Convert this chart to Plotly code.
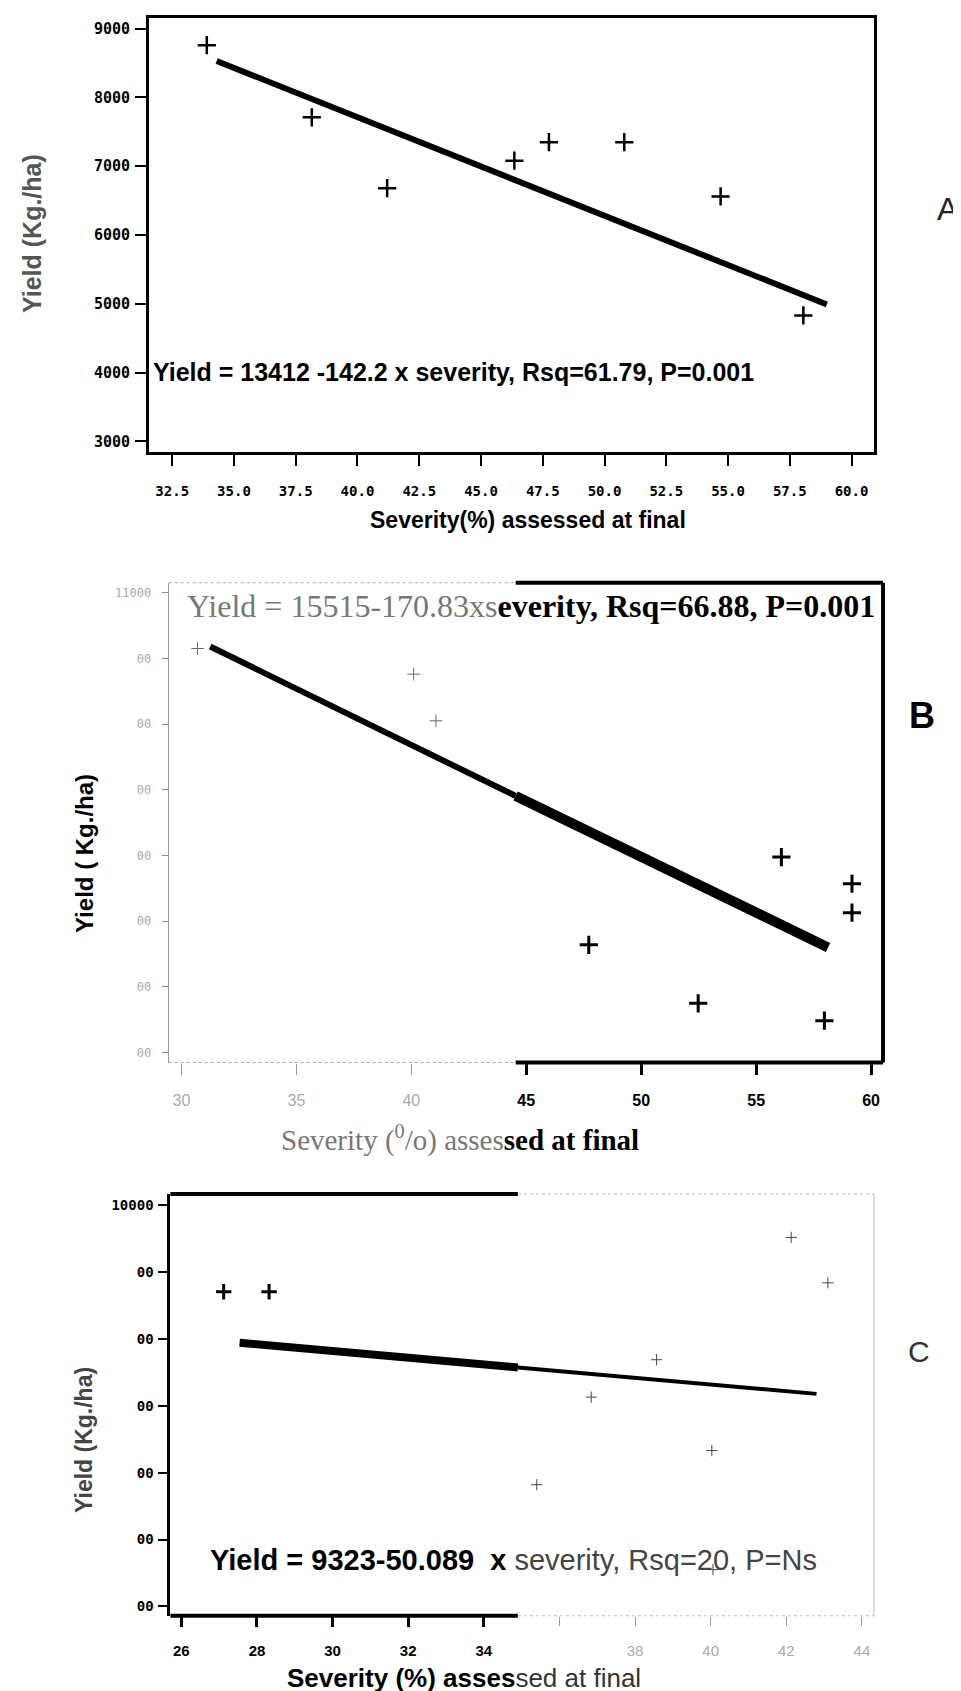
import plotly.graph_objects as go

W, H = 961, 1691

# ---------------- data ----------------
# Panel A
a_sev = [33.9, 38.15, 41.2, 46.35, 47.75, 50.8, 54.7, 58.05]
a_yld = [8760, 7710, 6680, 7080, 7350, 7350, 6560, 4830]
a_fit_x = [34.3, 59.0]
a_fit_y = [8530, 4990]
a_xticks = [32.5, 35.0, 37.5, 40.0, 42.5, 45.0, 47.5, 50.0, 52.5, 55.0, 57.5, 60.0]
a_xlabels = ["32.5", "35.0", "37.5", "40.0", "42.5", "45.0", "47.5", "50.0", "52.5", "55.0", "57.5", "60.0"]
a_yticks = [3000, 4000, 5000, 6000, 7000, 8000, 9000]
a_ylabels = ["3000", "4000", "5000", "6000", "7000", "8000", "9000"]

# Panel B
b_sev = [30.7, 40.1, 41.07, 47.72, 52.48, 56.1, 59.17, 59.17, 57.97]
b_yld = [10150, 9760, 9050, 5640, 4750, 6975, 6570, 6130, 4485]
b_fit_x = [31.25, 44.54, 58.13]
b_fit_y = [10180, 7906, 5600]
b_xticks = [30, 35, 40, 45, 50, 55, 60]
b_xlabels = ["30", "35", "40", "45", "50", "55", "60"]
b_yticks = [4000, 5000, 6000, 7000, 8000, 9000, 10000, 11000]
b_ylabels = ["00", "00", "00", "00", "00", "00", "00", "11000"]

# Panel C
c_sev = [27.12, 28.32, 35.4, 36.84, 38.57, 40.03, 42.13, 43.1, 40.06]
c_yld = [8707, 8707, 5820, 7130, 7690, 6330, 9520, 8840, 4550]
c_fit_x = [27.54, 34.9, 42.8]
c_fit_y = [7944, 7575, 7179]
c_xticks = [26, 28, 30, 32, 34, 38, 40, 42, 44]
c_xlabels = ["26", "28", "30", "32", "34", "38", "40", "42", "44"]
c_unlabelled_ticks = [36]
c_yticks = [4000, 5000, 6000, 7000, 8000, 9000, 10000]
c_ylabels = ["00", "00", "00", "00", "00", "00", "10000"]

eq_a = "Yield = 13412 -142.2 x severity, Rsq=61.79, P=0.001"
eq_b_left = "Yield = 15515-170.83xs"
eq_b_right = "everity, Rsq=66.88, P=0.001"
eq_c_left = "Yield = 9323-50.089  x"
eq_c_right = "severity, Rsq=20, P=Ns"

# ---------------- helpers ----------------
def px_x(p):
    return p / W

def px_y(p):
    return 1 - p / H

SANS = "Liberation Sans, Arial, sans-serif"
SERIF = "Liberation Serif, Times New Roman, serif"
MONO = "DejaVu Sans Mono, monospace"

fig = go.Figure()

# split points (in data units) where the reference changes from faint to bold
B_SPLIT = 44.54
C_SPLIT = 34.9

# ---- Panel A
fig.add_trace(go.Scatter(x=a_fit_x, y=a_fit_y, mode="lines",
                         line=dict(color="black", width=6), xaxis="x", yaxis="y",
                         showlegend=False, hoverinfo="skip"))
fig.add_trace(go.Scatter(x=a_sev, y=a_yld, mode="markers",
                         marker=dict(symbol="cross-thin", size=13, line=dict(color="black", width=2.5)),
                         xaxis="x", yaxis="y", showlegend=False))

# ---- Panel B
fig.add_trace(go.Scatter(x=b_fit_x[:2], y=b_fit_y[:2], mode="lines",
                         line=dict(color="black", width=6), xaxis="x2", yaxis="y2",
                         showlegend=False, hoverinfo="skip"))
fig.add_trace(go.Scatter(x=b_fit_x[1:], y=b_fit_y[1:], mode="lines",
                         line=dict(color="black", width=10), xaxis="x2", yaxis="y2",
                         showlegend=False, hoverinfo="skip"))
bf = [i for i, v in enumerate(b_sev) if v < B_SPLIT]
bb = [i for i, v in enumerate(b_sev) if v >= B_SPLIT]
fig.add_trace(go.Scatter(x=[b_sev[i] for i in bf], y=[b_yld[i] for i in bf], mode="markers",
                         marker=dict(symbol="cross-thin", size=9, line=dict(color="#666", width=1)),
                         xaxis="x2", yaxis="y2", showlegend=False))
fig.add_trace(go.Scatter(x=[b_sev[i] for i in bb], y=[b_yld[i] for i in bb], mode="markers",
                         marker=dict(symbol="cross-thin", size=13, line=dict(color="black", width=3)),
                         xaxis="x2", yaxis="y2", showlegend=False))
fig.add_trace(go.Scatter(x=[b_xticks[-1]], y=[b_yticks[0]], mode="markers", opacity=0,
                         xaxis="x4", yaxis="y2", showlegend=False, hoverinfo="skip"))

# ---- Panel C
fig.add_trace(go.Scatter(x=c_fit_x[:2], y=c_fit_y[:2], mode="lines",
                         line=dict(color="black", width=8), xaxis="x3", yaxis="y3",
                         showlegend=False, hoverinfo="skip"))
fig.add_trace(go.Scatter(x=c_fit_x[1:], y=c_fit_y[1:], mode="lines",
                         line=dict(color="black", width=4), xaxis="x3", yaxis="y3",
                         showlegend=False, hoverinfo="skip"))
cb = [i for i, v in enumerate(c_sev) if v < C_SPLIT]
cf = [i for i, v in enumerate(c_sev) if v >= C_SPLIT]
fig.add_trace(go.Scatter(x=[c_sev[i] for i in cb], y=[c_yld[i] for i in cb], mode="markers",
                         marker=dict(symbol="cross-thin", size=11, line=dict(color="black", width=3)),
                         xaxis="x3", yaxis="y3", showlegend=False))
fig.add_trace(go.Scatter(x=[c_sev[i] for i in cf], y=[c_yld[i] for i in cf], mode="markers",
                         marker=dict(symbol="cross-thin", size=8, line=dict(color="#444", width=1)),
                         xaxis="x3", yaxis="y3", showlegend=False))
fig.add_trace(go.Scatter(x=[c_xticks[0]], y=[c_yticks[0]], mode="markers", opacity=0,
                         xaxis="x5", yaxis="y3", showlegend=False, hoverinfo="skip"))

# ---------------- axes ----------------
A_dom_x = [px_x(141), px_x(866)]
A_dom_y = [px_y(444), px_y(10)]
B_dom_x = [px_x(160.6), px_x(875)]
B_dom_y = [px_y(1054.5), px_y(574.7)]
C_dom_x = [px_x(162.4), px_x(866)]
C_dom_y = [px_y(1607.8), px_y(1186)]
B_RANGE = [29.44, 60.52]
C_RANGE = [25.71, 44.32]

faint = lambda t: '<span style="color:#aaa;font-weight:normal">%s</span>' % t

fig.update_layout(
    width=W, height=H,
    margin=dict(l=0, r=0, t=0, b=0),
    paper_bgcolor="white", plot_bgcolor="white",
    showlegend=False,
    xaxis=dict(domain=A_dom_x, range=[31.56, 60.91], anchor="y",
               tickmode="array", tickvals=a_xticks, ticktext=a_xlabels,
               ticks="outside", ticklen=11, tickwidth=2, tickcolor="black",
               ticklabelstandoff=13,
               showline=True, linewidth=3, linecolor="black", mirror=True,
               showgrid=False, zeroline=False,
               tickfont=dict(family=MONO, size=14, color="black", weight="bold")),
    yaxis=dict(domain=A_dom_y, range=[2844, 9155], anchor="x",
               tickmode="array", tickvals=a_yticks, ticktext=a_ylabels,
               ticks="outside", ticklen=11, tickwidth=2, tickcolor="black",
               ticklabelstandoff=2,
               showline=True, linewidth=3, linecolor="black", mirror=True,
               showgrid=False, zeroline=False,
               tickfont=dict(family=MONO, size=15, color="black", weight="bold")),
    xaxis2=dict(domain=B_dom_x, range=B_RANGE, anchor="y2",
                tickmode="array", tickvals=b_xticks,
                ticktext=[faint(t) if v < B_SPLIT else t for v, t in zip(b_xticks, b_xlabels)],
                ticks="outside", ticklen=11, tickwidth=1, tickcolor="#999",
                ticklabelstandoff=12,
                showline=False, showgrid=False, zeroline=False,
                tickfont=dict(family=SANS, size=16, color="black", weight="bold")),
    xaxis4=dict(domain=B_dom_x, range=B_RANGE, anchor="y2", overlaying="x2", side="bottom",
                tickmode="array", tickvals=[v for v in b_xticks if v >= B_SPLIT],
                showticklabels=False,
                ticks="outside", ticklen=11, tickwidth=3, tickcolor="black",
                showline=False, showgrid=False, zeroline=False),
    yaxis2=dict(domain=B_dom_y, range=[3849, 11152], anchor="x2",
                tickmode="array", tickvals=b_yticks, ticktext=b_ylabels,
                ticks="outside", ticklen=6, tickwidth=1, tickcolor="#888",
                ticklabelstandoff=8,
                showline=True, linewidth=1, linecolor="#999",
                showgrid=False, zeroline=False,
                tickfont=dict(family=MONO, size=12, color="#aaa")),
    xaxis3=dict(domain=C_dom_x, range=C_RANGE, anchor="y3",
                tickmode="array", tickvals=c_xticks,
                ticktext=[faint(t) if v > C_SPLIT else t for v, t in zip(c_xticks, c_xlabels)],
                ticks="outside", ticklen=9, tickwidth=1, tickcolor="#999",
                ticklabelstandoff=12,
                minor=dict(tickmode="array", tickvals=c_unlabelled_ticks, ticks="outside",
                           ticklen=9, tickwidth=1, tickcolor="#999", showgrid=False),
                showline=False, showgrid=False, zeroline=False,
                tickfont=dict(family=SANS, size=15, color="black", weight="bold")),
    xaxis5=dict(domain=C_dom_x, range=C_RANGE, anchor="y3", overlaying="x3", side="bottom",
                tickmode="array", tickvals=[v for v in c_xticks if v < C_SPLIT],
                showticklabels=False,
                ticks="outside", ticklen=10, tickwidth=3, tickcolor="black",
                showline=False, showgrid=False, zeroline=False),
    yaxis3=dict(domain=C_dom_y, range=[3859, 10169], anchor="x3",
                tickmode="array", tickvals=c_yticks, ticktext=c_ylabels,
                ticks="outside", ticklen=9, tickwidth=2, tickcolor="black",
                ticklabelstandoff=2,
                showline=True, linewidth=3, linecolor="black",
                showgrid=False, zeroline=False,
                tickfont=dict(family=MONO, size=14, color="black", weight="bold")),
)

# ---------------- frame pieces for B and C ----------------
def frac(v, rng):
    return (v - rng[0]) / (rng[1] - rng[0])

fb = frac(B_SPLIT, B_RANGE)
fc = frac(C_SPLIT, C_RANGE)
shapes = []
for yy in (0, 1):
    shapes.append(dict(type="line", xref="x2 domain", yref="y2 domain", x0=0, x1=fb, y0=yy, y1=yy,
                       line=dict(color="#aaa", width=1, dash="dot")))
    shapes.append(dict(type="line", xref="x2 domain", yref="y2 domain", x0=fb, x1=1, y0=yy, y1=yy,
                       line=dict(color="black", width=4)))
    shapes.append(dict(type="line", xref="x3 domain", yref="y3 domain", x0=0, x1=fc, y0=yy, y1=yy,
                       line=dict(color="black", width=4)))
    shapes.append(dict(type="line", xref="x3 domain", yref="y3 domain", x0=fc, x1=1, y0=yy, y1=yy,
                       line=dict(color="#bbb", width=1, dash="dot")))
shapes.append(dict(type="line", xref="x2 domain", yref="y2 domain", x0=1, x1=1, y0=0, y1=1,
                   line=dict(color="black", width=4)))
shapes.append(dict(type="line", xref="x3 domain", yref="y3 domain", x0=1, x1=1, y0=0, y1=1,
                   line=dict(color="#bbb", width=1)))
fig.update_layout(shapes=shapes)

# ---------------- text ----------------
ann = []
def add(text, x, y, size, family, color="black", xanchor="center", yanchor="middle", angle=0, weight="normal"):
    ann.append(dict(text=text, x=px_x(x), y=px_y(y), xref="paper", yref="paper",
                    showarrow=False, xanchor=xanchor, yanchor=yanchor, textangle=angle,
                    borderpad=0,
                    font=dict(size=size, family=family, color=color, weight=weight)))

# Panel A
add(eq_a, 144, 364, 25, SANS, xanchor="left", weight="bold")
add("Yield (Kg./ha)", 24, 226, 25, SANS, color="#555", angle=-90, weight="bold")
add("Severity(%) assessed at final", 520, 512, 23, SANS, weight="bold")
add("A", 940, 201, 32, SANS, color="#222")

# Panel B
add('<span style="color:#777;font-weight:normal">%s</span><b>%s</b>' % (eq_b_left, eq_b_right),
    178, 598, 32, SERIF, xanchor="left")
add("Yield ( Kg./ha)", 76, 846, 24, SANS, angle=-90, weight="bold")
add('<span style="color:#777;font-weight:normal">Severity (<sup>0</sup>/o) asses</span><b>sed at final</b>',
    452, 1130, 29, SERIF)
add("B", 914, 707, 36, SANS, weight="bold")

# Panel C
add('<b>%s</b> <span style="color:#444;font-weight:normal">%s</span>' % (eq_c_left, eq_c_right),
    201, 1552, 29, SANS, xanchor="left")
add("Yield (Kg./ha)", 76, 1432, 23, SANS, color="#444", angle=-90, weight="bold")
add('<b>Severity (%) asses</b><span style="color:#333;font-weight:normal">sed at final</span>',
    456, 1670, 26, SANS)
add("C", 911, 1343, 30, SANS, color="#333")

fig.update_layout(annotations=ann)

fig.write_html("out.html")
